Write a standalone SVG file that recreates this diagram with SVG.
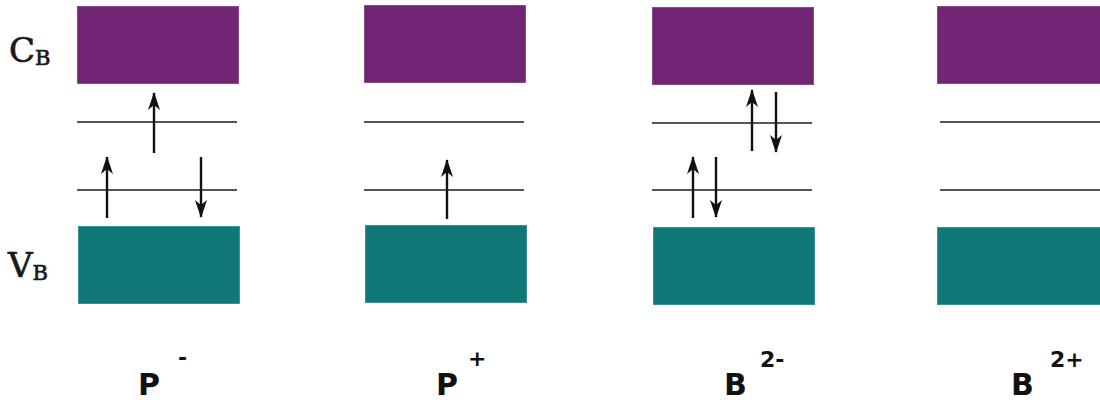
<svg xmlns="http://www.w3.org/2000/svg" width="1100" height="400" viewBox="0 0 1100 400">
<defs>
<marker id="ah" viewBox="0 0 18 12" refX="17" refY="6" markerWidth="18" markerHeight="12" markerUnits="userSpaceOnUse" orient="auto">
<path d="M18 6 L0 0 L5 6 L0 12 Z" fill="#111"/>
</marker>
<style>
.cb{fill:#722475;stroke:#8a4a8c;stroke-width:1}
.vb{fill:#0f7775;stroke:#3a9593;stroke-width:1}
.lvl{stroke:#555;stroke-width:2}
.ar{stroke:#111;stroke-width:2.4;fill:none}
.up{marker-end:url(#ah)}
.lab{font-family:"DejaVu Serif","Liberation Serif",serif;fill:#1a1a1a;stroke:#1a1a1a;stroke-width:0.7}
.big{font-family:"DejaVu Sans","Liberation Sans",sans-serif;font-weight:bold;fill:#111}
</style>
</defs>
<g id="axis-labels">
<text class="lab" x="9" y="62" font-size="34">C<tspan font-size="21" dy="3">B</tspan></text>
<text class="lab" x="8" y="277" font-size="34">V<tspan font-size="21" dy="3">B</tspan></text>
</g>
<g id="col-Pminus">
<rect class="cb" x="77.5" y="6.5" width="161" height="77"/>
<rect class="vb" x="78.5" y="226.5" width="161" height="77"/>
<line class="lvl" x1="77" y1="122" x2="237" y2="122"/>
<line class="lvl" x1="77" y1="190" x2="237" y2="190"/>
<text class="big" x="138" y="395" font-size="30">P</text>
<text class="big" x="178" y="365" font-size="22">-</text>
</g>
<g id="col-Pplus">
<rect class="cb" x="364.5" y="5.5" width="161" height="77"/>
<rect class="vb" x="365.5" y="225.5" width="161" height="77"/>
<line class="lvl" x1="364" y1="122" x2="524" y2="122"/>
<line class="lvl" x1="364" y1="190" x2="524" y2="190"/>
<text class="big" x="436" y="395" font-size="30">P</text>
<text class="big" x="468" y="366" font-size="22">+</text>
</g>
<g id="col-B2minus">
<rect class="cb" x="652.5" y="7.5" width="161" height="77"/>
<rect class="vb" x="653.5" y="227.5" width="161" height="77"/>
<line class="lvl" x1="652" y1="123" x2="812" y2="123"/>
<line class="lvl" x1="652" y1="190" x2="812" y2="190"/>
<text class="big" x="724" y="395" font-size="30">B</text>
<text class="big" x="760" y="367" font-size="22">2-</text>
</g>
<g id="col-B2plus">
<rect class="cb" x="937.5" y="6.5" width="163" height="77"/>
<rect class="vb" x="937.5" y="227.5" width="163" height="77"/>
<line class="lvl" x1="940" y1="122" x2="1100" y2="122"/>
<line class="lvl" x1="940" y1="190" x2="1100" y2="190"/>
<text class="big" x="1011" y="395" font-size="30">B</text>
<text class="big" x="1050" y="367" font-size="22">2+</text>
</g>
<g id="connectors">
<line class="ar up" x1="154" y1="153" x2="154" y2="93"/>
<line class="ar up" x1="107" y1="218" x2="107" y2="157"/>
<line class="ar up" x1="201" y1="157" x2="201" y2="217"/>
<line class="ar up" x1="447" y1="219" x2="447" y2="160"/>
<line class="ar up" x1="752" y1="151" x2="752" y2="90"/>
<line class="ar up" x1="776" y1="92" x2="776" y2="152"/>
<line class="ar up" x1="693" y1="218" x2="693" y2="157"/>
<line class="ar up" x1="716" y1="157" x2="716" y2="217"/>
</g>
</svg>
